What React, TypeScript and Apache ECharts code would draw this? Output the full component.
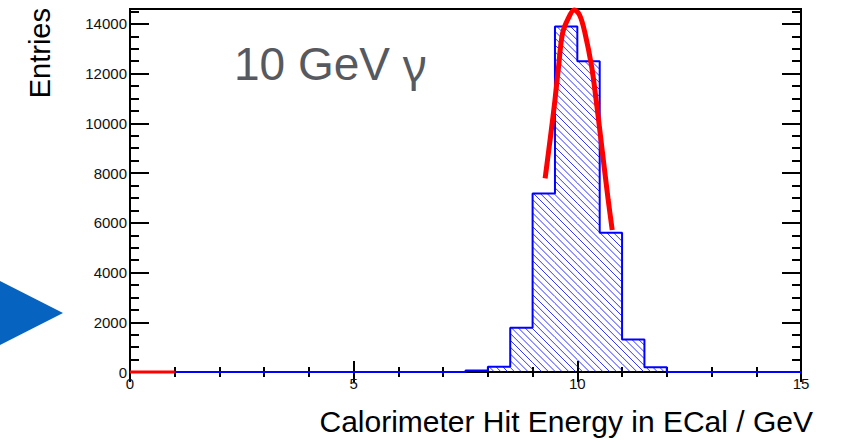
import React, { useEffect, useRef } from "react";
import * as echarts from "echarts";

// Histogram: lower bin edges (GeV) and entries per bin
const binLow = [7.5, 8, 8.5, 9, 9.5, 10, 10.5, 11, 11.5];
const binCounts = [60, 210, 1780, 7180, 13900, 12500, 5600, 1310, 190];
const binWidth = 0.5;
const xRange = [0, 15];
const yRange = [0, 14600];

// Gaussian fit curve, sampled points (GeV, entries)
const fitX = [9.28, 9.41, 9.5, 9.58, 9.67, 9.8, 9.93, 10.05, 10.17, 10.32, 10.42, 10.51, 10.6, 10.69, 10.78];
const fitY = [7790, 9610, 10940, 12280, 13620, 14230, 14560, 14360, 13640, 12280, 10940, 9610, 8250, 6920, 5710];

// Fit function drawn along zero at the low end of the range
const fitTailX = [0, 1];
const fitTailY = [0, 0];

// Axis tick spacing
const xMajorStep = 5;
const xMinorSplit = 5;
const yMajorStep = 2000;
const yMinorStep = 500;

const FONT = "Liberation Sans";

export default function App() {
  const ref = useRef<HTMLDivElement>(null);

  useEffect(() => {
    if (!ref.current) return;
    const chart = echarts.init(ref.current, undefined, { renderer: "svg" });

    const outline: number[][] = [[xRange[0], 0]];
    binLow.forEach((x, i) => outline.push([x, binCounts[i]]));
    outline.push([binLow[binLow.length - 1] + binWidth, 0]);
    outline.push([xRange[1], 0]);

    const hatchData = binLow.map((x, i) => [x, x + binWidth, binCounts[i]]);
    const fitData = fitX.map((x, i) => [x, fitY[i]]);
    const tailData = fitTailX.map((x, i) => [x, fitTailY[i]]);

    const HATCH = 6.8;
    const renderHatch = (params: any, api: any) => {
      const a = api.coord([api.value(0), api.value(2)]);
      const b = api.coord([api.value(1), 0]);
      const left = a[0];
      const right = b[0];
      const top = a[1];
      const bottom = b[1];
      const children: any[] = [];
      const kMin = Math.ceil((top - right) / HATCH);
      const kMax = Math.floor((bottom - left) / HATCH);
      for (let k = kMin; k <= kMax; k++) {
        const c = k * HATCH;
        const lo = Math.max(left, top - c);
        const hi = Math.min(right, bottom - c);
        if (hi - lo > 0.2) {
          children.push({
            type: "line",
            shape: { x1: lo, y1: lo + c, x2: hi, y2: hi + c },
            style: { stroke: "#0000ff", lineWidth: 0.8 },
          });
        }
      }
      return { type: "group", children };
    };

    const plain = (v: number) => String(v);
    const labelStyle = {
      show: true,
      fontSize: 15,
      color: "#111",
      fontFamily: FONT,
      formatter: plain,
    };
    const tickLine = { color: "#000", width: 2 };
    const baseY = {
      type: "value",
      min: yRange[0],
      max: yRange[1],
      axisLine: { show: false },
      splitLine: { show: false },
    };
    const baseX = {
      type: "value",
      min: xRange[0],
      max: xRange[1],
      interval: xMajorStep,
      axisLine: { show: false },
      splitLine: { show: false },
      minorSplitLine: { show: false },
    };

    chart.setOption({
      animation: false,
      backgroundColor: "#fff",
      grid: {
        left: 130,
        right: 41,
        top: 9,
        bottom: 70,
        show: true,
        borderColor: "#000",
        borderWidth: 2,
        backgroundColor: "transparent",
      },
      xAxis: [
        {
          ...baseX,
          position: "bottom",
          axisTick: { show: true, inside: true, length: 11, lineStyle: tickLine },
          minorTick: { show: true, splitNumber: xMinorSplit, length: 5, lineStyle: tickLine },
          axisLabel: { ...labelStyle, margin: 4 },
        },
        {
          ...baseX,
          position: "top",
          axisTick: { show: true, inside: true, length: 10, lineStyle: tickLine },
          minorTick: { show: true, splitNumber: xMinorSplit, length: 5, lineStyle: tickLine },
          axisLabel: { show: false },
        },
      ],
      yAxis: [
        {
          ...baseY,
          position: "left",
          interval: yMajorStep,
          axisTick: { show: true, inside: true, length: 19, lineStyle: tickLine },
          axisLabel: { ...labelStyle, margin: 3, showMaxLabel: false },
        },
        {
          ...baseY,
          position: "left",
          interval: yMinorStep,
          axisTick: { show: true, inside: true, length: 9, lineStyle: tickLine },
          axisLabel: { show: false },
        },
        {
          ...baseY,
          position: "right",
          interval: yMajorStep,
          axisTick: { show: true, inside: true, length: 19, lineStyle: tickLine },
          axisLabel: { show: false },
        },
        {
          ...baseY,
          position: "right",
          interval: yMinorStep,
          axisTick: { show: true, inside: true, length: 9, lineStyle: tickLine },
          axisLabel: { show: false },
        },
      ],
      series: [
        {
          type: "custom",
          name: "hatch",
          xAxisIndex: 0,
          yAxisIndex: 0,
          renderItem: renderHatch,
          encode: { x: [0, 1], y: 2 },
          data: hatchData,
          silent: true,
          z: 1,
        },
        {
          type: "line",
          name: "histogram",
          xAxisIndex: 0,
          yAxisIndex: 0,
          step: "end",
          data: outline,
          showSymbol: false,
          symbol: "none",
          clip: false,
          lineStyle: { color: "#0000ff", width: 2 },
          silent: true,
          z: 2,
        },
        {
          type: "line",
          name: "fit",
          xAxisIndex: 0,
          yAxisIndex: 0,
          data: fitData,
          smooth: 0.35,
          showSymbol: false,
          symbol: "none",
          clip: false,
          lineStyle: { color: "#ff0000", width: 5 },
          silent: true,
          z: 3,
        },
        {
          type: "line",
          name: "fit range",
          xAxisIndex: 0,
          yAxisIndex: 0,
          data: tailData,
          showSymbol: false,
          symbol: "none",
          clip: false,
          lineStyle: { color: "#ff0000", width: 3 },
          silent: true,
          z: 3,
        },
      ],
      graphic: [
        {
          type: "polygon",
          shape: { points: [[0, 281], [63, 313], [0, 345]] },
          style: { fill: "#0664c0" },
        },
        {
          type: "text",
          x: 234,
          y: 63.5,
          style: {
            text: "10 GeV {g|\u03b3}",
            font: `46px ${FONT}`,
            fill: "#565a60",
            align: "left",
            verticalAlign: "middle",
            textAlign: "left",
            textVerticalAlign: "middle",
            rich: {
              g: {
                fontFamily: "Noto Sans",
                fontSize: 46,
                fill: "#565a60",
                color: "#565a60",
              },
            },
          },
        },
        {
          type: "text",
          x: 813,
          y: 421,
          style: {
            text: "Calorimeter Hit Energy in ECal / GeV",
            font: `30px ${FONT}`,
            fill: "#000",
            align: "right",
            verticalAlign: "middle",
            textAlign: "right",
            textVerticalAlign: "middle",
          },
        },
        {
          type: "text",
          x: 39.5,
          y: 8,
          rotation: Math.PI / 2,
          style: {
            text: "Entries",
            font: `29px ${FONT}`,
            fill: "#000",
            align: "right",
            verticalAlign: "middle",
            textAlign: "right",
            textVerticalAlign: "middle",
          },
        },
      ],
    });

    return () => chart.dispose();
  }, []);

  return (
    <div
      ref={ref}
      style={{ position: "fixed", left: 0, top: 0, width: 842, height: 442, background: "#fff" }}
    />
  );
}
